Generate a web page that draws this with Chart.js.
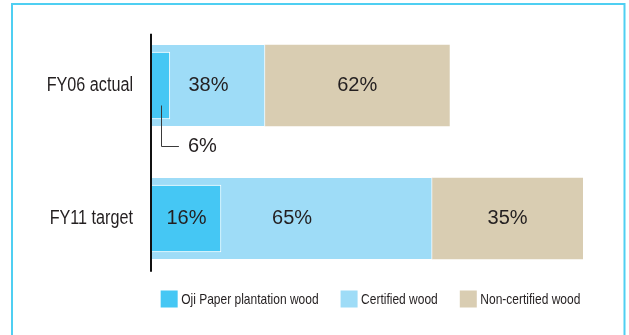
<!DOCTYPE html>
<html>
<head>
<meta charset="utf-8">
<style>
  html, body { margin: 0; padding: 0; background: #fff; }
  #wrap { width: 629px; height: 335px; position: relative; }
</style>
<script src="https://cdn.jsdelivr.net/npm/chart.js@4/dist/chart.umd.min.js"></script>
</head>
<body>
<div id="wrap"><canvas id="c" width="629" height="335"></canvas></div>
<script>
// Wood raw material sourcing, share by type (%)
const categories = ['FY06 actual', 'FY11 target'];
const ojiPct = [6, 16];            // Oji Paper plantation wood (part of certified wood)
const certifiedPct = [38, 65];     // Certified wood
const nonCertifiedPct = [62, 35];  // Non-certified wood
// Relative total wood volume (FY11 target = 100); bar lengths scale with it
const totalVolume = [69, 100];

const seriesNames = ['Oji Paper plantation wood', 'Certified wood', 'Non-certified wood'];
const seriesColors = ['#45c7f4', '#9edcf7', '#d9cdb2'];

const toVolume = (pct) => pct.map((p, i) => p * totalVolume[i] / 100);

const SANS = '"Liberation Sans", Arial, Helvetica, sans-serif';
const LABEL_FONT = '20px ' + SANS;
const TEXT_COLOR = '#231f20';
const TICK_CONDENSE = 0.83;    // condensed face for category names
const LEGEND_CONDENSE = 0.8;   // condensed face for legend text

const decor = {
  id: 'decor',
  beforeDraw(chart) {
    const ctx = chart.ctx;
    ctx.save();
    ctx.fillStyle = '#fff';
    ctx.fillRect(0, 0, chart.width, chart.height);
    // panel frame
    ctx.strokeStyle = '#4fcff2';
    ctx.lineWidth = 2;
    ctx.beginPath();
    ctx.moveTo(12, chart.height + 2);
    ctx.lineTo(12, 4);
    ctx.lineTo(624.5, 4);
    ctx.lineTo(624.5, chart.height + 2);
    ctx.stroke();
    ctx.restore();
  },
  afterDatasetsDraw(chart) {
    const ctx = chart.ctx;
    const area = chart.chartArea;
    const yScale = chart.scales.y;
    ctx.save();

    // vertical base axis
    ctx.strokeStyle = '#111';
    ctx.lineWidth = 2;
    ctx.beginPath();
    ctx.moveTo(area.left - 1, yScale.getPixelForValue(-0.39));
    ctx.lineTo(area.left - 1, yScale.getPixelForValue(1.4));
    ctx.stroke();

    // value labels
    ctx.font = LABEL_FONT;
    ctx.fillStyle = TEXT_COLOR;
    chart.data.datasets.forEach((ds, di) => {
      const meta = chart.getDatasetMeta(di);
      meta.data.forEach((bar, i) => {
        const text = ds.pct[i] + '%';
        const tw = ctx.measureText(text).width;
        const left = Math.min(bar.base, bar.x);
        const right = Math.max(bar.base, bar.x);
        const cx = (left + right) / 2;
        if (right - left >= tw + 10) {
          ctx.textAlign = 'center';
          ctx.textBaseline = 'middle';
          ctx.fillText(text, cx, bar.y);
        } else {
          // callout below the bar for narrow segments
          const bottom = bar.y + bar.height / 2;
          const yEnd = bottom + 27;
          ctx.strokeStyle = '#3a3a3a';
          ctx.lineWidth = 1;
          ctx.beginPath();
          ctx.moveTo(Math.round(cx) + 0.5, bar.y + 20);
          ctx.lineTo(Math.round(cx) + 0.5, yEnd + 0.5);
          ctx.lineTo(cx + 18, yEnd + 0.5);
          ctx.stroke();
          ctx.textAlign = 'left';
          ctx.textBaseline = 'middle';
          ctx.fillText(text, cx + 27, yEnd);
        }
      });
    });

    // legend row
    const box = 17, gapText = 3.5, gapItem = 22;
    ctx.font = '15px ' + SANS;
    const items = chart.data.datasets.map(ds => ({
      label: ds.label, color: ds.backgroundColor,
      w: ctx.measureText(ds.label).width * LEGEND_CONDENSE
    }));
    const total = items.reduce((s, it) => s + box + gapText + it.w, 0) + gapItem * (items.length - 1);
    let x = (area.left + area.right) / 2 + 3 - total / 2;
    const ly = area.bottom + 14;
    items.forEach(it => {
      ctx.fillStyle = it.color;
      ctx.fillRect(x, ly - box / 2, box, box);
      const tx = x + box + gapText;
      ctx.save();
      ctx.translate(tx, ly + 0.5);
      ctx.scale(LEGEND_CONDENSE, 1);
      ctx.fillStyle = TEXT_COLOR;
      ctx.textAlign = 'left';
      ctx.textBaseline = 'middle';
      ctx.fillText(it.label, 0, 0);
      ctx.restore();
      x += box + gapText + it.w + gapItem;
    });
    ctx.restore();
  }
};

new Chart(document.getElementById('c'), {
  type: 'bar',
  data: {
    labels: categories,
    datasets: [
      {
        label: seriesNames[0], pct: ojiPct, data: toVolume(ojiPct),
        backgroundColor: seriesColors[0], borderColor: '#ffffff',
        borderWidth: 1, borderSkipped: 'start',
        stack: 'oji', order: 0, barThickness: 67
      },
      {
        label: seriesNames[1], pct: certifiedPct, data: toVolume(certifiedPct),
        backgroundColor: seriesColors[1], borderColor: '#ffffff',
        borderWidth: { top: 0, right: 1, bottom: 0, left: 0 }, borderSkipped: false,
        stack: 'wood', order: 1, barThickness: 81
      },
      {
        label: seriesNames[2], pct: nonCertifiedPct, data: toVolume(nonCertifiedPct),
        backgroundColor: seriesColors[2], borderWidth: 0,
        stack: 'wood', order: 1, barThickness: 81
      }
    ]
  },
  options: {
    indexAxis: 'y',
    responsive: false,
    animation: false,
    events: [],
    datasets: { bar: { grouped: false } },
    layout: { padding: { top: 19, right: 46, bottom: 50, left: 0 } },
    scales: {
      x: { stacked: true, min: 0, max: 100, display: false },
      y: {
        stacked: true,
        grid: { display: false, drawTicks: false },
        border: { display: false },
        ticks: {
          padding: 19,
          color: TEXT_COLOR,
          font: { family: SANS, size: 19.5 }
        },
        afterFit(scale) {
          scale.width = 152;
          scale.paddingTop = 0;
          scale.paddingBottom = 0;
          if (!scale._condensedLabels) {
            // draw the category names in a condensed face, anchored at their right edge
            const drawLabels = scale.drawLabels.bind(scale);
            scale.drawLabels = function (chartArea) {
              const ctx = this.ctx;
              const ax = this.right - this.options.ticks.padding;
              ctx.save();
              ctx.translate(ax, 0);
              ctx.scale(TICK_CONDENSE, 1);
              ctx.translate(-ax, 0);
              drawLabels(chartArea);
              ctx.restore();
            };
            scale._condensedLabels = true;
          }
        }
      }
    },
    plugins: {
      legend: { display: false },
      tooltip: { enabled: false }
    }
  },
  plugins: [decor]
});
</script>
</body>
</html>
